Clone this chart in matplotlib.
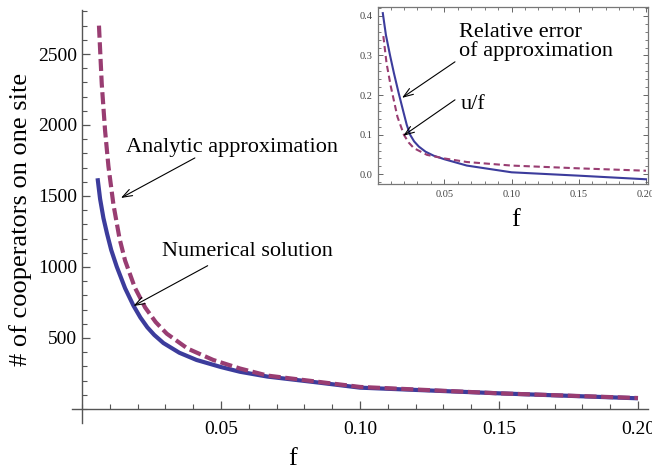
import matplotlib
matplotlib.use("Agg")
import matplotlib.pyplot as plt
from matplotlib.ticker import FixedLocator, MultipleLocator, FormatStrFormatter

plt.rcParams["font.family"] = ["Liberation Serif", "DejaVu Serif"]

# main panel: number of cooperators vs f
num_f = [0.0056, 0.0065, 0.0077, 0.0090, 0.0105, 0.0125, 0.0155, 0.0185, 0.0210,
         0.0235, 0.0260, 0.0293, 0.0350, 0.0412, 0.0500, 0.0568, 0.0667, 0.0850,
         0.1000, 0.1500, 0.2000]
num_u = [1625, 1480, 1345, 1235, 1120, 1002, 850, 728, 644,
         575, 521, 464, 396, 345, 295, 262, 228, 186,
         150, 110, 75]

ana_f = [0.0061, 0.0071, 0.0083, 0.0095, 0.0113, 0.0135, 0.0155, 0.0190, 0.0227,
         0.0265, 0.0305, 0.0380, 0.0472, 0.0568, 0.0667, 0.1000, 0.1500, 0.2000]
ana_u = [2700, 2290, 1960, 1710, 1440, 1200, 1045, 855, 715,
         612, 530, 425, 345, 285, 235, 155, 110, 77]

# inset: relative error and u/f
err_f = [0.0042, 0.0065, 0.0096, 0.0125, 0.0160, 0.0195, 0.0220, 0.0245, 0.0275,
         0.0310, 0.0360, 0.0420, 0.0500, 0.0667, 0.1000, 0.1500, 0.2000]
err_v = [0.407, 0.352, 0.300, 0.255, 0.205, 0.158, 0.125, 0.100, 0.083,
         0.070, 0.057, 0.047, 0.038, 0.022, 0.005, -0.0035, -0.0126]

uf_f = [0.0046, 0.0070, 0.0102, 0.0151, 0.0200, 0.0235, 0.0273, 0.0371, 0.0500,
        0.0667, 0.1000, 0.1500, 0.2000]
uf_v = [0.349, 0.280, 0.221, 0.145, 0.099, 0.080, 0.066, 0.049, 0.040,
        0.031, 0.022, 0.015, 0.009]

main_xticks = [0.05, 0.10, 0.15, 0.20]
main_yticks = [500, 1000, 1500, 2000, 2500]
inset_xticks = [0.05, 0.10, 0.15, 0.20]
inset_yticks = [0.0, 0.1, 0.2, 0.3, 0.4]

BLUE = "#3c3c9c"
PURPLE = "#993d72"
AXIS = "#555555"

W, H = 652, 471
fig = plt.figure(figsize=(W / 100, H / 100), dpi=100)

# ---- main axes ----
ax = fig.add_axes([72 / W, 1 - 423 / H, 576 / W, 413 / H])
ax.set_xlim(-0.0036, 0.2036)
ax.set_ylim(-99, 2810)
ax.plot(num_f, num_u, color=BLUE, lw=3.0, solid_capstyle="butt", solid_joinstyle="round")
ax.plot(ana_f, ana_u, color=PURPLE, lw=3.0, linestyle=(0, (2.9, 1.1)),
        dash_capstyle="butt")

for side in ("top", "right"):
    ax.spines[side].set_visible(False)
for side in ("left", "bottom"):
    ax.spines[side].set_position(("data", 0))
    ax.spines[side].set_color(AXIS)
    ax.spines[side].set_linewidth(1.0)

ax.xaxis.set_major_locator(FixedLocator(main_xticks))
ax.xaxis.set_major_formatter(FormatStrFormatter("%.2f"))
ax.xaxis.set_minor_locator(MultipleLocator(0.01))
ax.yaxis.set_major_locator(FixedLocator(main_yticks))
ax.yaxis.set_minor_locator(MultipleLocator(100))
ax.tick_params(which="both", direction="in", color=AXIS, labelsize=14)
ax.tick_params(which="major", length=5.5, width=0.9)
ax.tick_params(which="minor", length=3.6, width=0.8)
ax.tick_params(axis="x", which="major", pad=9)
ax.tick_params(axis="y", which="major", pad=3.5)

arrow = dict(arrowstyle="->,head_length=0.7,head_width=0.25", color="black",
             lw=0.8, shrinkA=0, shrinkB=0)
ax.text(0.0158, 1845, "Analytic approximation", fontsize=16, va="center", ha="left")
ax.annotate("", xy=(0.0140, 1486), xytext=(0.0406, 1768), arrowprops=arrow)
ax.text(0.0288, 1106, "Numerical solution", fontsize=16, va="center", ha="left")
ax.annotate("", xy=(0.0185, 725), xytext=(0.0452, 1009), arrowprops=arrow)

fig.text(293 / W, 1 - 459 / H, "f", fontsize=19, ha="center", va="center")
fig.text(21 / W, 1 - 219 / H, "# of cooperators on one site", fontsize=19,
         rotation=90, ha="center", va="center")

# ---- inset ----
ins = fig.add_axes([377.7 / W, 1 - 184.3 / H, 270.3 / W, 177 / H])
ins.set_xlim(0.0004, 0.2015)
ins.set_ylim(-0.0253, 0.4217)
ins.plot(err_f, err_v, color=BLUE, lw=1.5)
ins.plot(uf_f, uf_v, color=PURPLE, lw=1.5, linestyle=(0, (3.0, 1.8)))
for sp in ins.spines.values():
    sp.set_color("#777777")
    sp.set_linewidth(0.9)
ins.xaxis.set_major_locator(FixedLocator(inset_xticks))
ins.xaxis.set_major_formatter(FormatStrFormatter("%.2f"))
ins.xaxis.set_minor_locator(MultipleLocator(0.01))
ins.yaxis.set_major_locator(FixedLocator(inset_yticks))
ins.yaxis.set_major_formatter(FormatStrFormatter("%.1f"))
ins.yaxis.set_minor_locator(MultipleLocator(0.02))
ins.tick_params(which="both", direction="in", top=True, right=True,
                color="#666666", labelsize=7.5, labelcolor="#444444")
ins.tick_params(which="major", length=3.5, width=0.7, pad=4)
ins.tick_params(which="minor", length=2.0, width=0.6)

ins.text(0.0609, 0.335, "Relative error\nof approximation", fontsize=16,
         va="center", ha="left", linespacing=0.95)
ins.annotate("", xy=(0.0185, 0.193), xytext=(0.0579, 0.284), arrowprops=arrow)
ins.text(0.0622, 0.175, "u/f", fontsize=16, va="center", ha="left")
ins.annotate("", xy=(0.0193, 0.097), xytext=(0.0579, 0.188), arrowprops=arrow)

fig.text(516 / W, 1 - 220 / H, "f", fontsize=19, ha="center", va="center")

fig.savefig("out.png", dpi=100)
